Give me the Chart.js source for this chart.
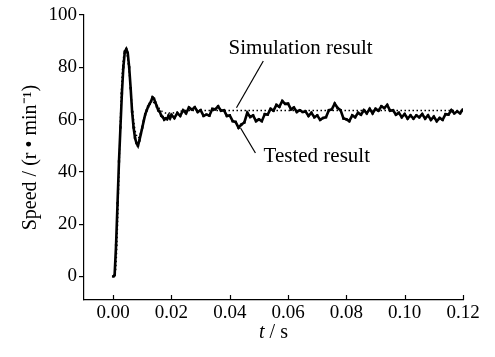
<!DOCTYPE html>
<html><head><meta charset="utf-8">
<script src="https://cdn.jsdelivr.net/npm/chart.js@4"></script>
<style>html,body{margin:0;padding:0;background:#fff}</style>
</head><body>
<canvas id="c" width="495" height="357"></canvas>
<script>
// ---- data (time in s, speed in r/min) ----
const tTested = [0,0.0005,0.001,0.0015,0.002,0.0025,0.003,0.0035,0.004,0.0045,0.005,0.0055,0.006,0.0065,0.007,0.0075,0.008,0.0085,0.009,0.0095,0.01,0.0105,0.011,0.0115,0.012,0.0125,0.013,0.0135,0.014,0.0145,0.015,0.0155,0.016,0.0165,0.017,0.0175,0.018,0.0185,0.019,0.0195,
0.020,0.021,0.022,0.023,0.024,0.025,0.026,0.027,0.028,0.029,0.030,0.031,0.032,0.033,0.034,0.035,0.036,0.037,0.038,0.039,0.040,0.041,0.042,0.043,0.044,0.045,0.046,0.047,0.048,0.049,0.050,0.051,0.052,0.053,0.054,0.055,0.056,0.057,0.058,0.059,0.060,0.061,0.062,0.063,0.064,0.065,0.066,0.067,0.068,0.069,0.070,0.071,0.072,0.073,0.074,0.075,0.076,0.077,0.078,0.079,0.080,0.081,0.082,0.083,0.084,0.085,0.086,0.087,0.088,0.089,0.090,0.091,0.092,0.093,0.094,0.095,0.096,0.097,0.098,0.099,0.100,0.101,0.102,0.103,0.104,0.105,0.106,0.107,0.108,0.109,0.110,0.111,0.112,0.113,0.114,0.115,0.116,0.117,0.118,0.119,0.120];
const vTested = [0,0.5,12,28,44,57,70,80,86,87,85.5,80,72,63,57,53,51,50,52,54.5,57,59.5,62,63.5,65,66,67,68.5,68,66.5,65,63.5,63,61.5,61,60,60.5,60.2,61.5,60.5,
61.8,60.6,62.5,61.4,63.6,62.4,64.6,63.8,64.7,62.9,63.6,61.4,61.9,61.5,64.1,63.9,65.1,63.4,63.6,61.4,61.6,59.4,59.1,56.9,58.1,58.9,62.6,61.0,61.6,59.4,60.1,59.4,62.1,61.9,64.1,63.4,65.6,64.9,67.1,66.0,66.1,63.9,64.6,62.9,63.6,62.9,63.1,61.4,62.6,60.9,61.6,59.9,60.6,60.9,63.6,63.9,66.1,64.4,63.6,60.4,60.1,59.4,61.6,60.9,62.6,61.9,63.6,62.4,64.1,62.4,64.1,63.4,65.1,64.4,65.6,63.4,63.6,61.9,62.6,60.9,62.1,60.4,61.6,60.4,61.6,60.9,62.1,60.4,61.6,59.9,61.1,59.4,60.6,59.9,62.1,61.9,63.6,62.4,63.1,62.4,63.9];

const tSim = [0,0.0005,0.001,0.0015,0.002,0.0025,0.003,0.0035,0.004,0.0045,0.005,0.0055,0.006,0.0065,0.007,0.0075,0.008,0.0085,0.009,0.0095,0.01,0.011,0.012,0.013,0.014,0.015,0.016,0.017,0.018,0.02,0.025,0.03,0.04,0.05,0.06,0.07,0.08,0.09,0.10,0.11,0.12];
const vSim = [0,0,5,20,40,60,75,83,86,86,83,78,72,65,60,56,54,53,53.5,55,57.5,62,65,66.5,66.5,65.5,64,63,62.5,62.5,63.5,63.5,63.5,63.5,63.5,63.5,63.5,63.5,63.5,63.5,63.5];

const xTicks = [0.00,0.02,0.04,0.06,0.08,0.10,0.12];
const yTicks = [0,20,40,60,80,100];

// annotation leaders (data units)
const simLeaderT = [0.0515,0.0423];
const simLeaderV = [82.4,64.5];
const testLeaderT = [0.0437,0.0488];
const testLeaderV = [56.8,47.2];
const simLabel = {text:'Simulation result', t:0.0396, v:87.3};
const testLabel = {text:'Tested result', t:0.0516, v:45.8};

const pts = (ts, vs) => ts.map((t,i)=>({x:t, y:vs[i]}));
const SERIF = '"Liberation Serif", "Times New Roman", serif';

const extras = {
  id:'extras',
  afterDraw(chart){
    const ctx = chart.ctx, xs = chart.scales.x, ys = chart.scales.y;
    const bottom = chart.chartArea.bottom;
    ctx.save();
    ctx.strokeStyle = '#000'; ctx.lineWidth = 1.2;
    xs.ticks.forEach(tk=>{
      const px = Math.round(xs.getPixelForValue(tk.value))+0.5;
      ctx.beginPath(); ctx.moveTo(px,bottom); ctx.lineTo(px,bottom-5); ctx.stroke();
    });
    ctx.fillStyle = '#000';
    ctx.font = '21px ' + SERIF;
    ctx.textBaseline = 'middle'; ctx.textAlign = 'left';
    [simLabel,testLabel].forEach(l=>{
      ctx.fillText(l.text, xs.getPixelForValue(l.t), ys.getPixelForValue(l.v));
    });
    // x title: italic t / s
    const cx = (chart.chartArea.left + chart.chartArea.right)/2, cy = 333;
    ctx.font = 'italic 20px ' + SERIF;
    const w1 = ctx.measureText('t').width;
    ctx.font = '20px ' + SERIF;
    const w2 = ctx.measureText(' / s').width;
    const x0 = cx - (w1+w2)/2;
    ctx.font = 'italic 20px ' + SERIF;
    ctx.fillText('t', x0, cy);
    ctx.font = '20px ' + SERIF;
    ctx.fillText(' / s', x0 + w1, cy);
    ctx.restore();
  }
};

new Chart(document.getElementById('c'), {
  type:'line',
  data:{datasets:[
    {label:'Tested result', data:pts(tTested,vTested), borderColor:'#000', backgroundColor:'#000', borderWidth:2.6, pointStyle:'rect', pointRadius:1.7, pointBorderWidth:0, tension:0},
    {label:'Simulation result', data:pts(tSim,vSim), borderColor:'#000', borderWidth:1.5, borderDash:[1.5,2.5], pointRadius:0, tension:0.3, cubicInterpolationMode:'monotone'},
    {label:'lead1', data:pts(simLeaderT,simLeaderV), borderColor:'#000', borderWidth:1.2, pointRadius:0},
    {label:'lead2', data:pts(testLeaderT,testLeaderV), borderColor:'#000', borderWidth:1.2, pointRadius:0}
  ]},
  options:{
    responsive:false, animation:false, devicePixelRatio:1,
    layout:{padding:{top:15,right:32,left:0,bottom:0}},
    plugins:{legend:{display:false}, tooltip:{enabled:false}},
    scales:{
      x:{type:'linear', min:-0.01, max:0.12,
        afterBuildTicks:s=>{s.ticks = xTicks.map(v=>({value:v}));},
        afterFit:s=>{s.height = 57;},
        grid:{display:false, drawTicks:false},
        border:{display:true,color:'#000',width:1.2},
        ticks:{color:'#000', padding:2, maxRotation:0, autoSkip:false, font:{family:SERIF,size:19}, callback:v=>Number(v).toFixed(2)}
      },
      y:{type:'linear', min:-9, max:100,
        afterBuildTicks:s=>{s.ticks = yTicks.map(v=>({value:v}));},
        afterFit:s=>{s.width = 84;},
        grid:{display:true, drawOnChartArea:false, drawTicks:true, tickLength:5, color:'#000', lineWidth:1.2},
        border:{display:true,color:'#000',width:1.2},
        ticks:{color:'#000', padding:2, font:{family:SERIF,size:19}},
        title:{display:true, text:'Speed / (r • min⁻¹)', color:'#000', font:{family:SERIF,size:20}, padding:{top:19,bottom:0}}
      }
    }
  },
  plugins:[extras]
});
</script>
</body></html>
